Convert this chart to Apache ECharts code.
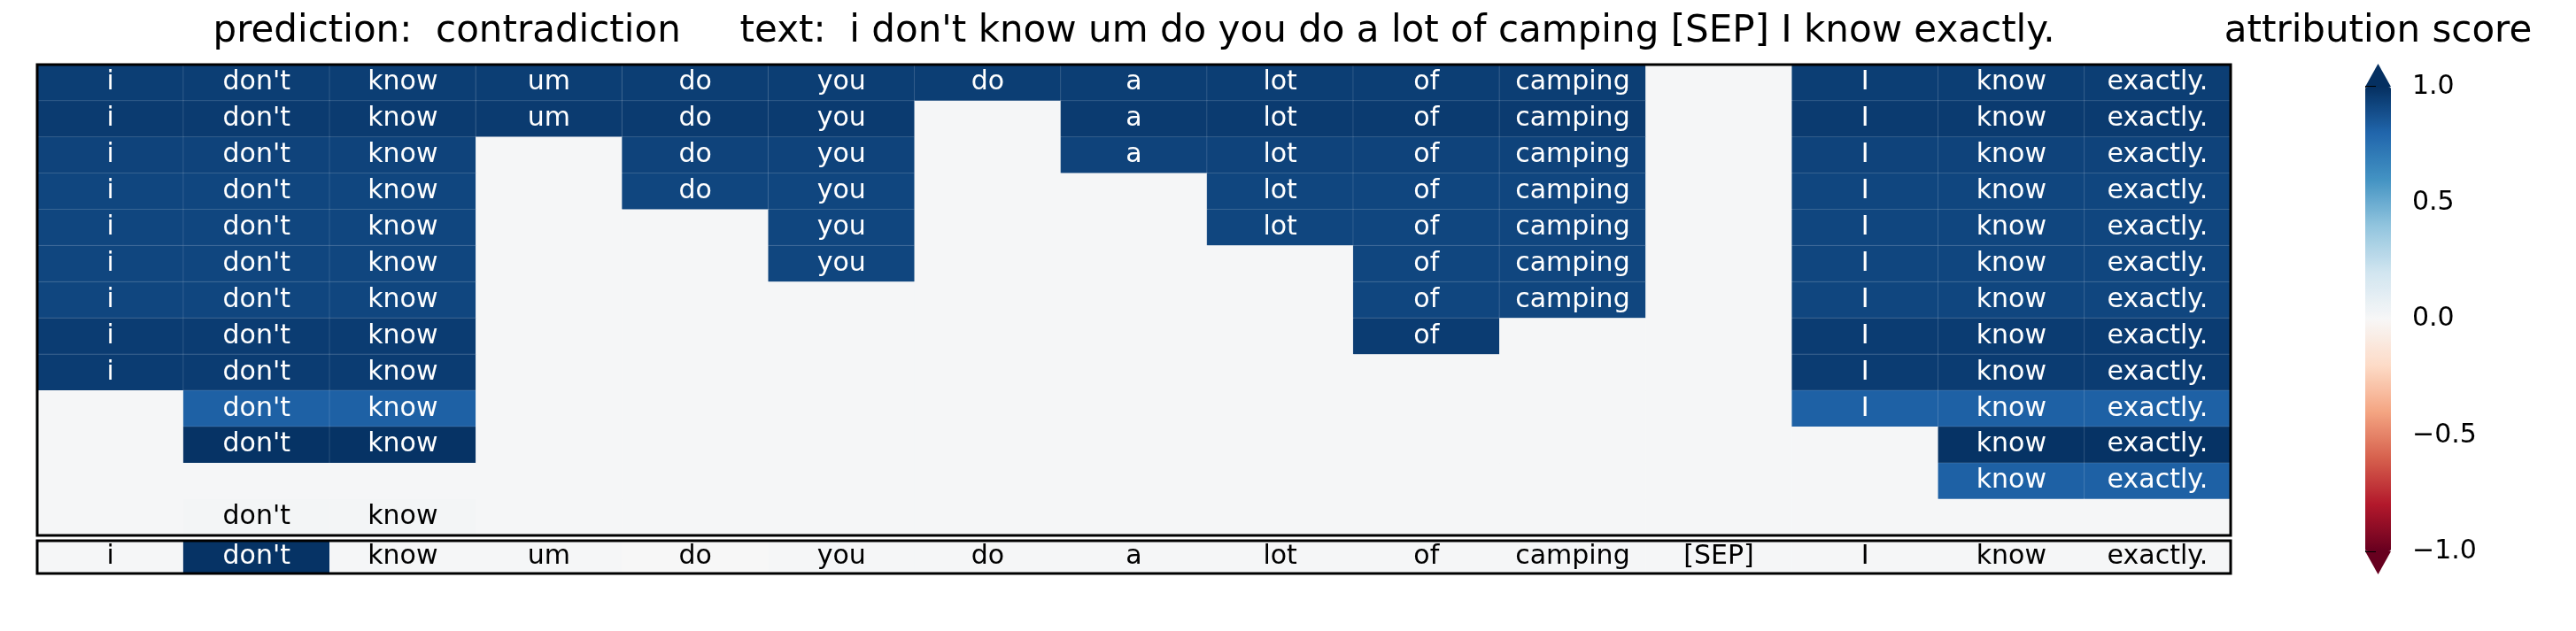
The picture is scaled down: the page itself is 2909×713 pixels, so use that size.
<!DOCTYPE html>
<html>
<head>
<meta charset="utf-8">
<script src="https://cdn.jsdelivr.net/npm/echarts@6/dist/echarts.min.js"></script>
<style>
  html, body { margin: 0; padding: 0; background: #fff; }
  #container { width: 2909px; height: 713px; }
</style>
</head>
<body>
<div id="container"></div>
<script>
// tokens of the input
const tokens = ['i', "don't", 'know', 'um', 'do', 'you', 'do', 'a', 'lot', 'of', 'camping', '[SEP]', 'I', 'know', 'exactly.']

// 1 = token kept in that row
const rowMasks = [
  [1, 1, 1, 1, 1, 1, 1, 1, 1, 1, 1, 0, 1, 1, 1],
  [1, 1, 1, 1, 1, 1, 0, 1, 1, 1, 1, 0, 1, 1, 1],
  [1, 1, 1, 0, 1, 1, 0, 1, 1, 1, 1, 0, 1, 1, 1],
  [1, 1, 1, 0, 1, 1, 0, 0, 1, 1, 1, 0, 1, 1, 1],
  [1, 1, 1, 0, 0, 1, 0, 0, 1, 1, 1, 0, 1, 1, 1],
  [1, 1, 1, 0, 0, 1, 0, 0, 0, 1, 1, 0, 1, 1, 1],
  [1, 1, 1, 0, 0, 0, 0, 0, 0, 1, 1, 0, 1, 1, 1],
  [1, 1, 1, 0, 0, 0, 0, 0, 0, 1, 0, 0, 1, 1, 1],
  [1, 1, 1, 0, 0, 0, 0, 0, 0, 0, 0, 0, 1, 1, 1],
  [0, 1, 1, 0, 0, 0, 0, 0, 0, 0, 0, 0, 1, 1, 1],
  [0, 1, 1, 0, 0, 0, 0, 0, 0, 0, 0, 0, 0, 1, 1],
  [0, 0, 0, 0, 0, 0, 0, 0, 0, 0, 0, 0, 0, 1, 1],
  [0, 1, 1, 0, 0, 0, 0, 0, 0, 0, 0, 0, 0, 0, 0]
]

// attribution score of the kept tokens in each row
const rowScores = [0.95, 0.96, 0.93, 0.92, 0.92, 0.92, 0.92, 0.955, 0.955, 0.82, 0.99, 0.82, 0.02]
// score of the removed (blank) cells
const blankScore = 0.01

// token attribution, bottom row
const tokenScores = [0.01, 0.99, 0.01, 0.01, 0.0, 0.01, 0.01, 0.01, 0.01, 0.01, 0.01, 0.01, 0.01, 0.01, 0.01]

// colorbar ticks
const cbTicks = [-1, -0.5, 0, 0.5, 1]

const titleText = "prediction:  contradiction     text:  i don't know um do you do a lot of camping [SEP] I know exactly."
const cbTitle = 'attribution score'

// RdBu colormap
const rdBu = ['#67001f', '#b2182b', '#d6604d', '#f4a582', '#fddbc7', '#f7f7f7',
  '#d1e5f0', '#92c5de', '#4393c3', '#2166ac', '#053061']

const FONT = 'DejaVu Sans'
const textColor = v => (v > 0.5 ? '#fff' : '#000')

// main heatmap cells
const mainData = []
rowMasks.forEach((mask, r) => {
  mask.forEach((kept, c) => {
    const v = kept ? rowScores[r] : blankScore
    mainData.push({
      value: [c, r, v],
      label: { formatter: kept ? tokens[c] : '', color: textColor(v) },
      itemStyle: kept ? { borderColor: 'rgba(255,255,255,0.14)', borderWidth: 1 } : { borderWidth: 0 }
    })
  })
})

const bottomData = tokenScores.map((v, c) => ({
  value: [c, 0, v],
  label: { formatter: tokens[c], color: textColor(v) }
}))

// layout
const plotLeft = 42
const plotWidth = 2477
const cb = { left: 2671, top: 98, width: 29, height: 525, ext: 26 }

const cellLabel = { show: true, fontSize: 30, fontFamily: FONT }

const option = {
  animation: false,
  textStyle: { fontFamily: FONT },
  title: [
    {
      text: titleText,
      left: plotLeft + plotWidth / 2,
      textAlign: 'center',
      top: 15,
      padding: 0,
      textStyle: { fontSize: 42, fontWeight: 'normal', color: '#000', fontFamily: FONT }
    },
    {
      text: cbTitle,
      left: cb.left + cb.width / 2,
      textAlign: 'center',
      top: 15,
      padding: 0,
      textStyle: { fontSize: 42, fontWeight: 'normal', color: '#000', fontFamily: FONT }
    }
  ],
  grid: [
    { left: plotLeft, top: 73, width: plotWidth, height: 532, show: true, z: 10,
      backgroundColor: 'transparent', borderColor: '#000', borderWidth: 3 },
    { left: plotLeft, top: 611, width: plotWidth, height: 37, show: true, z: 10,
      backgroundColor: 'transparent', borderColor: '#000', borderWidth: 3 },
    { left: cb.left, top: cb.top, width: cb.width, height: cb.height, show: false }
  ],
  xAxis: [
    { type: 'category', gridIndex: 0, data: tokens.map((t, i) => i), show: false },
    { type: 'category', gridIndex: 1, data: tokens.map((t, i) => i), show: false },
    { type: 'value', gridIndex: 2, show: false, min: 0, max: 1 }
  ],
  yAxis: [
    { type: 'category', gridIndex: 0, inverse: true, data: rowMasks.map((m, i) => i), show: false },
    { type: 'category', gridIndex: 1, data: [0], show: false },
    {
      type: 'value', gridIndex: 2, position: 'right', min: -1, max: 1, interval: 0.5,
      axisLine: { show: false },
      axisTick: { show: true, length: 12, lineStyle: { color: '#000', width: 2 } },
      splitLine: { show: false },
      axisLabel: {
        margin: 24, fontSize: 30, color: '#000', fontFamily: FONT,
        formatter: v => (cbTicks.includes(v) ? v.toFixed(1).replace('-', '\u2212') : '')
      }
    }
  ],
  visualMap: {
    type: 'continuous',
    min: -1,
    max: 1,
    seriesIndex: [0, 1],
    dimension: 2,
    inRange: { color: rdBu },
    show: true,
    calculable: false,
    hoverLink: false,
    orient: 'vertical',
    left: cb.left,
    top: cb.top,
    itemWidth: cb.width,
    itemHeight: cb.height,
    padding: 0,
    text: null
  },
  graphic: [
    {
      type: 'polygon', silent: true,
      shape: { points: [[cb.left, cb.top], [cb.left + cb.width, cb.top], [cb.left + cb.width / 2, cb.top - cb.ext]] },
      style: { fill: rdBu[rdBu.length - 1] }
    },
    {
      type: 'polygon', silent: true,
      shape: { points: [[cb.left, cb.top + cb.height], [cb.left + cb.width, cb.top + cb.height], [cb.left + cb.width / 2, cb.top + cb.height + cb.ext]] },
      style: { fill: rdBu[0] }
    }
  ],
  series: [
    {
      type: 'heatmap',
      xAxisIndex: 0,
      yAxisIndex: 0,
      data: mainData,
      label: cellLabel,
      emphasis: { disabled: true }
    },
    {
      type: 'heatmap',
      xAxisIndex: 1,
      yAxisIndex: 1,
      data: bottomData,
      label: cellLabel,
      emphasis: { disabled: true }
    }
  ]
}

const dom = document.getElementById('container')
const myChart = echarts.init(dom, null, { renderer: 'canvas' })
myChart.setOption(option)
window.addEventListener('resize', () => {
  myChart.resize()
})
</script>
</body>
</html>
